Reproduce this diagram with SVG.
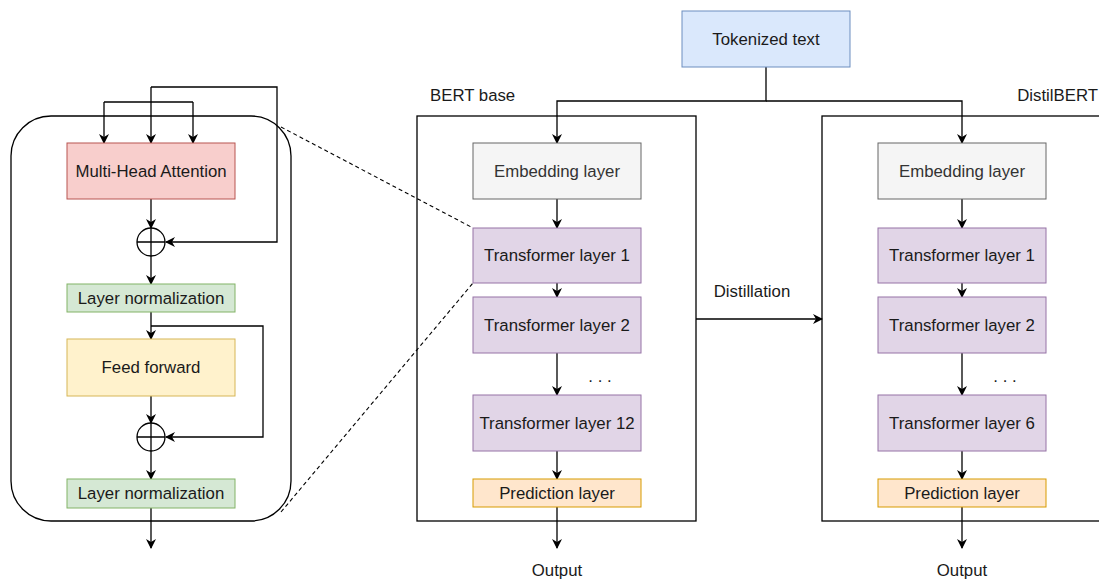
<svg xmlns="http://www.w3.org/2000/svg" width="1099" height="580" viewBox="0 0 1099 580">
  <style>
    text { font-family: "Liberation Sans", Arial, sans-serif; font-size: 16.8px; fill: #1a1a1a; text-anchor: middle; dominant-baseline: central; }
    .lbl { text-anchor: start; }
    .lbl-end { text-anchor: end; }
    .wire { fill: none; stroke: #000; stroke-width: 1.3; }
    .dash { fill: none; stroke: #000; stroke-width: 1.1; stroke-dasharray: 4 3; }
    .frame { fill: none; stroke: #000; stroke-width: 1.3; }
    .red { fill: #f8cecc; stroke: #b85450; }
    .green { fill: #d5e8d4; stroke: #82b366; }
    .yellow { fill: #fff2cc; stroke: #d6b656; }
    .grey { fill: #f5f5f5; stroke: #666666; }
    .purple { fill: #e1d5e7; stroke: #9673a6; }
    .orange { fill: #ffe6cc; stroke: #d79b00; }
    .blue { fill: #dae8fc; stroke: #6c8ebf; }
    .plus { fill: #fff; stroke: #000; stroke-width: 1.3; }
  </style>
  <defs>
    <marker id="arrow" viewBox="0 0 10 10" refX="9" refY="5" markerWidth="10" markerHeight="10" markerUnits="userSpaceOnUse" orient="auto">
      <path d="M0,0 L10,5 L0,10 L3,5 z" fill="#000"/>
    </marker>
  </defs>

  <!-- containers -->
  <rect class="frame" x="11" y="116" width="280" height="405" rx="40" ry="40"/>
  <rect class="frame" x="417" y="116" width="279" height="405"/>
  <rect class="frame" x="822" y="116" width="279" height="405"/>
  <text class="lbl" x="430" y="95">BERT base</text>
  <text class="lbl-end" x="1098" y="95">DistilBERT</text>

  <!-- connectors -->
  <g id="connectors">
    <!-- encoder block inputs -->
    <path class="wire" d="M151,87 L277,87 L277,242 L166,242" marker-end="url(#arrow)"/>
    <path class="wire" d="M151,87 L151,143" marker-end="url(#arrow)"/>
    <path class="wire" d="M104,102 L193,102"/>
    <path class="wire" d="M104,102 L104,143" marker-end="url(#arrow)"/>
    <path class="wire" d="M193,102 L193,143" marker-end="url(#arrow)"/>
    <path class="wire" d="M151,199 L151,228" marker-end="url(#arrow)"/>
    <path class="wire" d="M151,256 L151,284" marker-end="url(#arrow)"/>
    <path class="wire" d="M151,312 L151,339" marker-end="url(#arrow)"/>
    <path class="wire" d="M151,326 L263,326 L263,437 L166,437" marker-end="url(#arrow)"/>
    <path class="wire" d="M151,396 L151,423" marker-end="url(#arrow)"/>
    <path class="wire" d="M151,451 L151,479" marker-end="url(#arrow)"/>
    <path class="wire" d="M151,508 L151,548" marker-end="url(#arrow)"/>

    <!-- zoom guides -->
    <path class="dash" d="M281,127 L473,228"/>
    <path class="dash" d="M281,512 L473,283"/>

    <!-- input fan-out -->
    <path class="wire" d="M766,67 L766,101 L557,101 L557,143" marker-end="url(#arrow)"/>
    <path class="wire" d="M766,101 L962,101 L962,143" marker-end="url(#arrow)"/>

    <!-- BERT base stack -->
    <path class="wire" d="M557,199 L557,228" marker-end="url(#arrow)"/>
    <path class="wire" d="M557,283 L557,297" marker-end="url(#arrow)"/>
    <path class="wire" d="M557,353 L557,395" marker-end="url(#arrow)"/>
    <path class="wire" d="M557,451 L557,479" marker-end="url(#arrow)"/>
    <path class="wire" d="M557,507 L557,548" marker-end="url(#arrow)"/>

    <!-- DistilBERT stack -->
    <path class="wire" d="M962,199 L962,228" marker-end="url(#arrow)"/>
    <path class="wire" d="M962,283 L962,297" marker-end="url(#arrow)"/>
    <path class="wire" d="M962,353 L962,395" marker-end="url(#arrow)"/>
    <path class="wire" d="M962,451 L962,479" marker-end="url(#arrow)"/>
    <path class="wire" d="M962,507 L962,548" marker-end="url(#arrow)"/>

    <!-- distillation -->
    <path class="wire" d="M696,319 L822,319" marker-end="url(#arrow)"/>
    <text x="752" y="291">Distillation</text>
    <text x="600" y="376">. . .</text>
    <text x="1005" y="376">. . .</text>
  </g>

  <!-- encoder block -->
  <g id="mha"><rect class="red" x="67" y="143" width="168" height="56"/><text x="151" y="171">Multi-Head Attention</text></g>
  <g id="add1"><circle class="plus" cx="151" cy="242" r="14"/><path class="wire" d="M137,242 H165 M151,228 V256"/></g>
  <g id="norm1"><rect class="green" x="67" y="284" width="168" height="28"/><text x="151" y="298">Layer normalization</text></g>
  <g id="ffn"><rect class="yellow" x="67" y="339" width="168" height="57"/><text x="151" y="367">Feed forward</text></g>
  <g id="add2"><circle class="plus" cx="151" cy="437" r="14"/><path class="wire" d="M137,437 H165 M151,423 V451"/></g>
  <g id="norm2"><rect class="green" x="67" y="479" width="168" height="29"/><text x="151" y="493">Layer normalization</text></g>

  <!-- input -->
  <g id="tokens"><rect class="blue" x="682" y="11" width="168" height="56"/><text x="766" y="39">Tokenized text</text></g>

  <!-- BERT base -->
  <g id="bert-embed"><rect class="grey" x="473" y="143" width="168" height="56"/><text x="557" y="171" style="fill:#333">Embedding layer</text></g>
  <g id="bert-l1"><rect class="purple" x="473" y="228" width="168" height="55"/><text x="557" y="255">Transformer layer 1</text></g>
  <g id="bert-l2"><rect class="purple" x="473" y="297" width="168" height="56"/><text x="557" y="325">Transformer layer 2</text></g>
  <g id="bert-l12"><rect class="purple" x="473" y="395" width="168" height="56"/><text x="557" y="423">Transformer layer 12</text></g>
  <g id="bert-pred"><rect class="orange" x="473" y="479" width="168" height="28"/><text x="557" y="493">Prediction layer</text></g>
  <g id="bert-out"><text x="557" y="570">Output</text></g>

  <!-- DistilBERT -->
  <g id="distil-embed"><rect class="grey" x="878" y="143" width="168" height="56"/><text x="962" y="171" style="fill:#333">Embedding layer</text></g>
  <g id="distil-l1"><rect class="purple" x="878" y="228" width="168" height="55"/><text x="962" y="255">Transformer layer 1</text></g>
  <g id="distil-l2"><rect class="purple" x="878" y="297" width="168" height="56"/><text x="962" y="325">Transformer layer 2</text></g>
  <g id="distil-l6"><rect class="purple" x="878" y="395" width="168" height="56"/><text x="962" y="423">Transformer layer 6</text></g>
  <g id="distil-pred"><rect class="orange" x="878" y="479" width="168" height="28"/><text x="962" y="493">Prediction layer</text></g>
  <g id="distil-out"><text x="962" y="570">Output</text></g>
</svg>
